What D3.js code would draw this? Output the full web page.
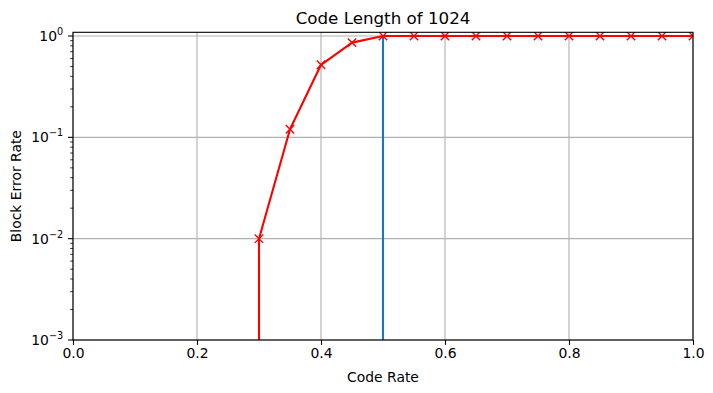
<!DOCTYPE html>
<html lang="en">
<head>
<meta charset="UTF-8">
<title>Code Length of 1024</title>
<script src="https://cdnjs.cloudflare.com/ajax/libs/d3/7.8.5/d3.min.js"></script>
<style>
    body { margin: 0; background: #fff; }
    svg { display: block; font-family: "DejaVu Sans", sans-serif; }
</style>
</head>
<body>
<svg id="chart" width="713" height="393"></svg>
<script>
    // data
    const codeRates = [0.3, 0.35, 0.4, 0.45, 0.5, 0.55, 0.6, 0.65, 0.7, 0.75, 0.8, 0.85, 0.9, 0.95, 1.0];
    const blockErrorRates = [0.01, 0.12, 0.52, 0.86, 1, 1, 1, 1, 1, 1, 1, 1, 1, 1, 1];
    const thresholdRate = 0.5;
    const xTicks = [0, 0.2, 0.4, 0.6, 0.8, 1.0];
    const yTickExps = [-3, -2, -1, 0];

    const svg = d3.select("#chart");
    const margin = {left: 73, right: 20, top: 32.3, bottom: 53};
    const W = 713, H = 393;

    const x = d3.scaleLinear().domain([0, 1]).range([margin.left, W - margin.right]);
    const y = d3.scaleLog().domain([1e-3, 1.088]).range([H - margin.bottom, margin.top]);

    svg.append("clipPath").attr("id", "clip")
        .append("rect")
        .attr("x", x(0)).attr("y", y.range()[1])
        .attr("width", x(1) - x(0)).attr("height", y.range()[0] - y.range()[1]);

    // grid
    const grid = svg.append("g").attr("stroke", "#b0b0b0").attr("stroke-width", 1.1);
    grid.selectAll(".gx").data(xTicks).enter().append("line")
        .attr("x1", d => x(d)).attr("x2", d => x(d))
        .attr("y1", y.range()[0]).attr("y2", y.range()[1]);
    grid.selectAll(".gy").data(yTickExps).enter().append("line")
        .attr("x1", x(0)).attr("x2", x(1))
        .attr("y1", d => y(Math.pow(10, d))).attr("y2", d => y(Math.pow(10, d)));

    const plot = svg.append("g").attr("clip-path", "url(#clip)");

    // threshold line
    plot.append("line")
        .attr("x1", x(thresholdRate)).attr("x2", x(thresholdRate))
        .attr("y1", y.range()[0]).attr("y2", y(1))
        .attr("stroke", "#1f77b4").attr("stroke-width", 2.1);

    // BLER curve, zero values below the first point drop off the log axis
    const pts = codeRates.map((r, i) => [r, blockErrorRates[i]]);
    const linePts = [[codeRates[0], y.domain()[0] / 10]].concat(pts);
    const line = d3.line().x(d => x(d[0])).y(d => y(d[1]));
    plot.append("path")
        .attr("d", line(linePts))
        .attr("fill", "none").attr("stroke", "red").attr("stroke-width", 2.1)
        .attr("stroke-linejoin", "round");

    const m = 4.2;
    plot.selectAll(".mk").data(pts).enter().append("path")
        .attr("d", d => {
            const cx = x(d[0]), cy = y(d[1]);
            return `M${cx - m},${cy - m}L${cx + m},${cy + m}M${cx - m},${cy + m}L${cx + m},${cy - m}`;
        })
        .attr("stroke", "red").attr("stroke-width", 1.4).attr("fill", "none");

    // spines
    svg.append("rect")
        .attr("x", x(0)).attr("y", y.range()[1])
        .attr("width", x(1) - x(0)).attr("height", y.range()[0] - y.range()[1])
        .attr("fill", "none").attr("stroke", "#000").attr("stroke-width", 1.1);

    // x axis
    const xAxis = svg.append("g").attr("transform", `translate(0,${y.range()[0]})`)
        .call(d3.axisBottom(x).tickValues(xTicks).tickFormat(d3.format(".1f")).tickSize(4.9).tickPadding(3.5));
    xAxis.select(".domain").remove();
    xAxis.selectAll("line").attr("stroke", "#000").attr("stroke-width", 1.1);
    xAxis.selectAll("text").attr("font-size", 13.9).attr("fill", "#000")
        .attr("font-family", "DejaVu Sans");

    // y axis ticks (major + minor)
    const minor = [];
    for (let e = -3; e < 0; e++) for (let k = 2; k <= 9; k++) minor.push(k * Math.pow(10, e));
    const yAx = svg.append("g");
    yAx.selectAll(".mn").data(minor).enter().append("line")
        .attr("x1", x(0) - 2.8).attr("x2", x(0))
        .attr("y1", d => y(d)).attr("y2", d => y(d))
        .attr("stroke", "#000").attr("stroke-width", 0.8);
    yAx.selectAll(".mj").data(yTickExps).enter().append("line")
        .attr("x1", x(0) - 4.9).attr("x2", x(0))
        .attr("y1", d => y(Math.pow(10, d))).attr("y2", d => y(Math.pow(10, d)))
        .attr("stroke", "#000").attr("stroke-width", 1.1);
    const lbl = yAx.selectAll(".lb").data(yTickExps).enter().append("text")
        .attr("x", x(0) - 9.8).attr("y", d => y(Math.pow(10, d)) + 5)
        .attr("text-anchor", "end").attr("font-size", 13.9).attr("fill", "#000");
    lbl.append("tspan").text("10");
    lbl.append("tspan").attr("dy", -6).attr("font-size", 9.7).text(d => d === 0 ? "0" : "\u2212" + (-d));

    // labels
    svg.append("text").attr("x", (x(0) + x(1)) / 2).attr("y", 381.5)
        .attr("text-anchor", "middle").attr("font-size", 13.9).text("Code Rate");
    svg.append("text")
        .attr("transform", `translate(21,${(y.range()[0] + y.range()[1]) / 2}) rotate(-90)`)
        .attr("text-anchor", "middle").attr("font-size", 13.9).text("Block Error Rate");
    svg.append("text").attr("x", (x(0) + x(1)) / 2).attr("y", 24)
        .attr("text-anchor", "middle").attr("font-size", 16.7).text("Code Length of 1024");
</script>
</body>
</html>
